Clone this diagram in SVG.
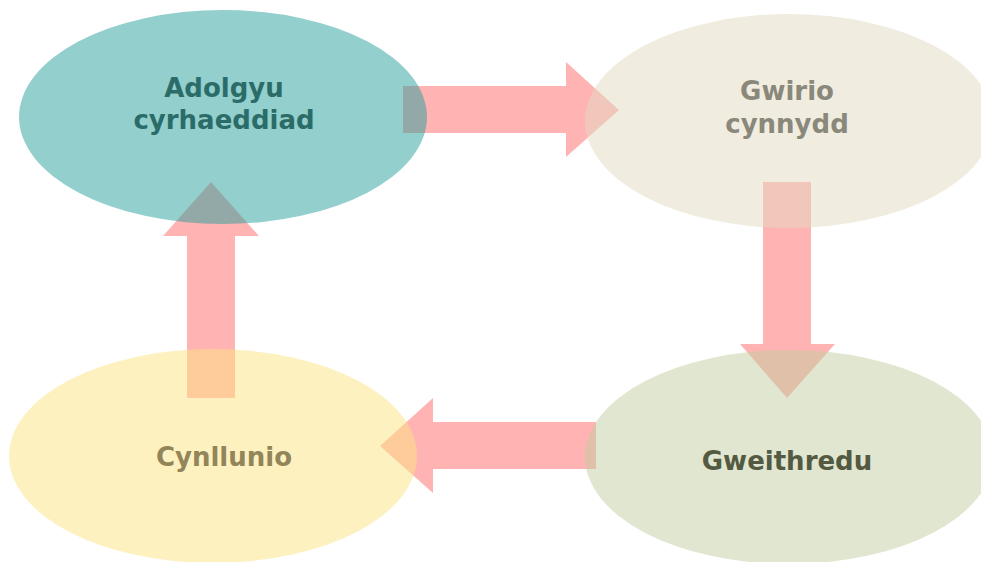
<svg xmlns="http://www.w3.org/2000/svg" width="981" height="562" viewBox="0 0 981 562">
<style>
.arrow{fill:#ffb3b3;}
.node ellipse{opacity:0.5;}
.lbl{font-family:"DejaVu Sans",Verdana,sans-serif;font-weight:bold;font-size:26px;text-anchor:middle;}
</style>
<rect width="981" height="562" fill="#ffffff"/>
<g id="connectors">
<polygon class="arrow" points="403,86 566,86 566,62 619,110 566,157 566,133 403,133"/>
<polygon class="arrow" points="763,182 811,182 811,344 835,344 787,398 740,344 763,344"/>
<polygon class="arrow" points="596,422 433,422 433,398 380,446 433,493 433,469 596,469"/>
<polygon class="arrow" points="187,398 187,236 163,236 211,182 259,236 235,236 235,398"/>
</g>
<g id="node-adolgyu" class="node">
<ellipse cx="223" cy="117" rx="204" ry="107" fill="#279f9b"/>
<text class="lbl" x="224" y="97" fill="#2b6c69">Adolgyu</text>
<text class="lbl" x="224" y="129" fill="#2b6c69">cyrhaeddiad</text>
</g>
<g id="node-gwirio" class="node">
<ellipse cx="789" cy="121" rx="204" ry="107" fill="#e1dbc1"/>
<text class="lbl" x="787" y="100" fill="#8a887a">Gwirio</text>
<text class="lbl" x="787" y="133" fill="#8a887a">cynnydd</text>
</g>
<g id="node-gweithredu" class="node">
<ellipse cx="789" cy="457" rx="204" ry="107" fill="#c3cda1"/>
<text class="lbl" x="787" y="470" fill="#545a42">Gweithredu</text>
</g>
<g id="node-cynllunio" class="node">
<ellipse cx="213" cy="456" rx="204" ry="107" fill="#fde381"/>
<text class="lbl" x="224" y="466" fill="#93855a">Cynllunio</text>
</g>
</svg>
